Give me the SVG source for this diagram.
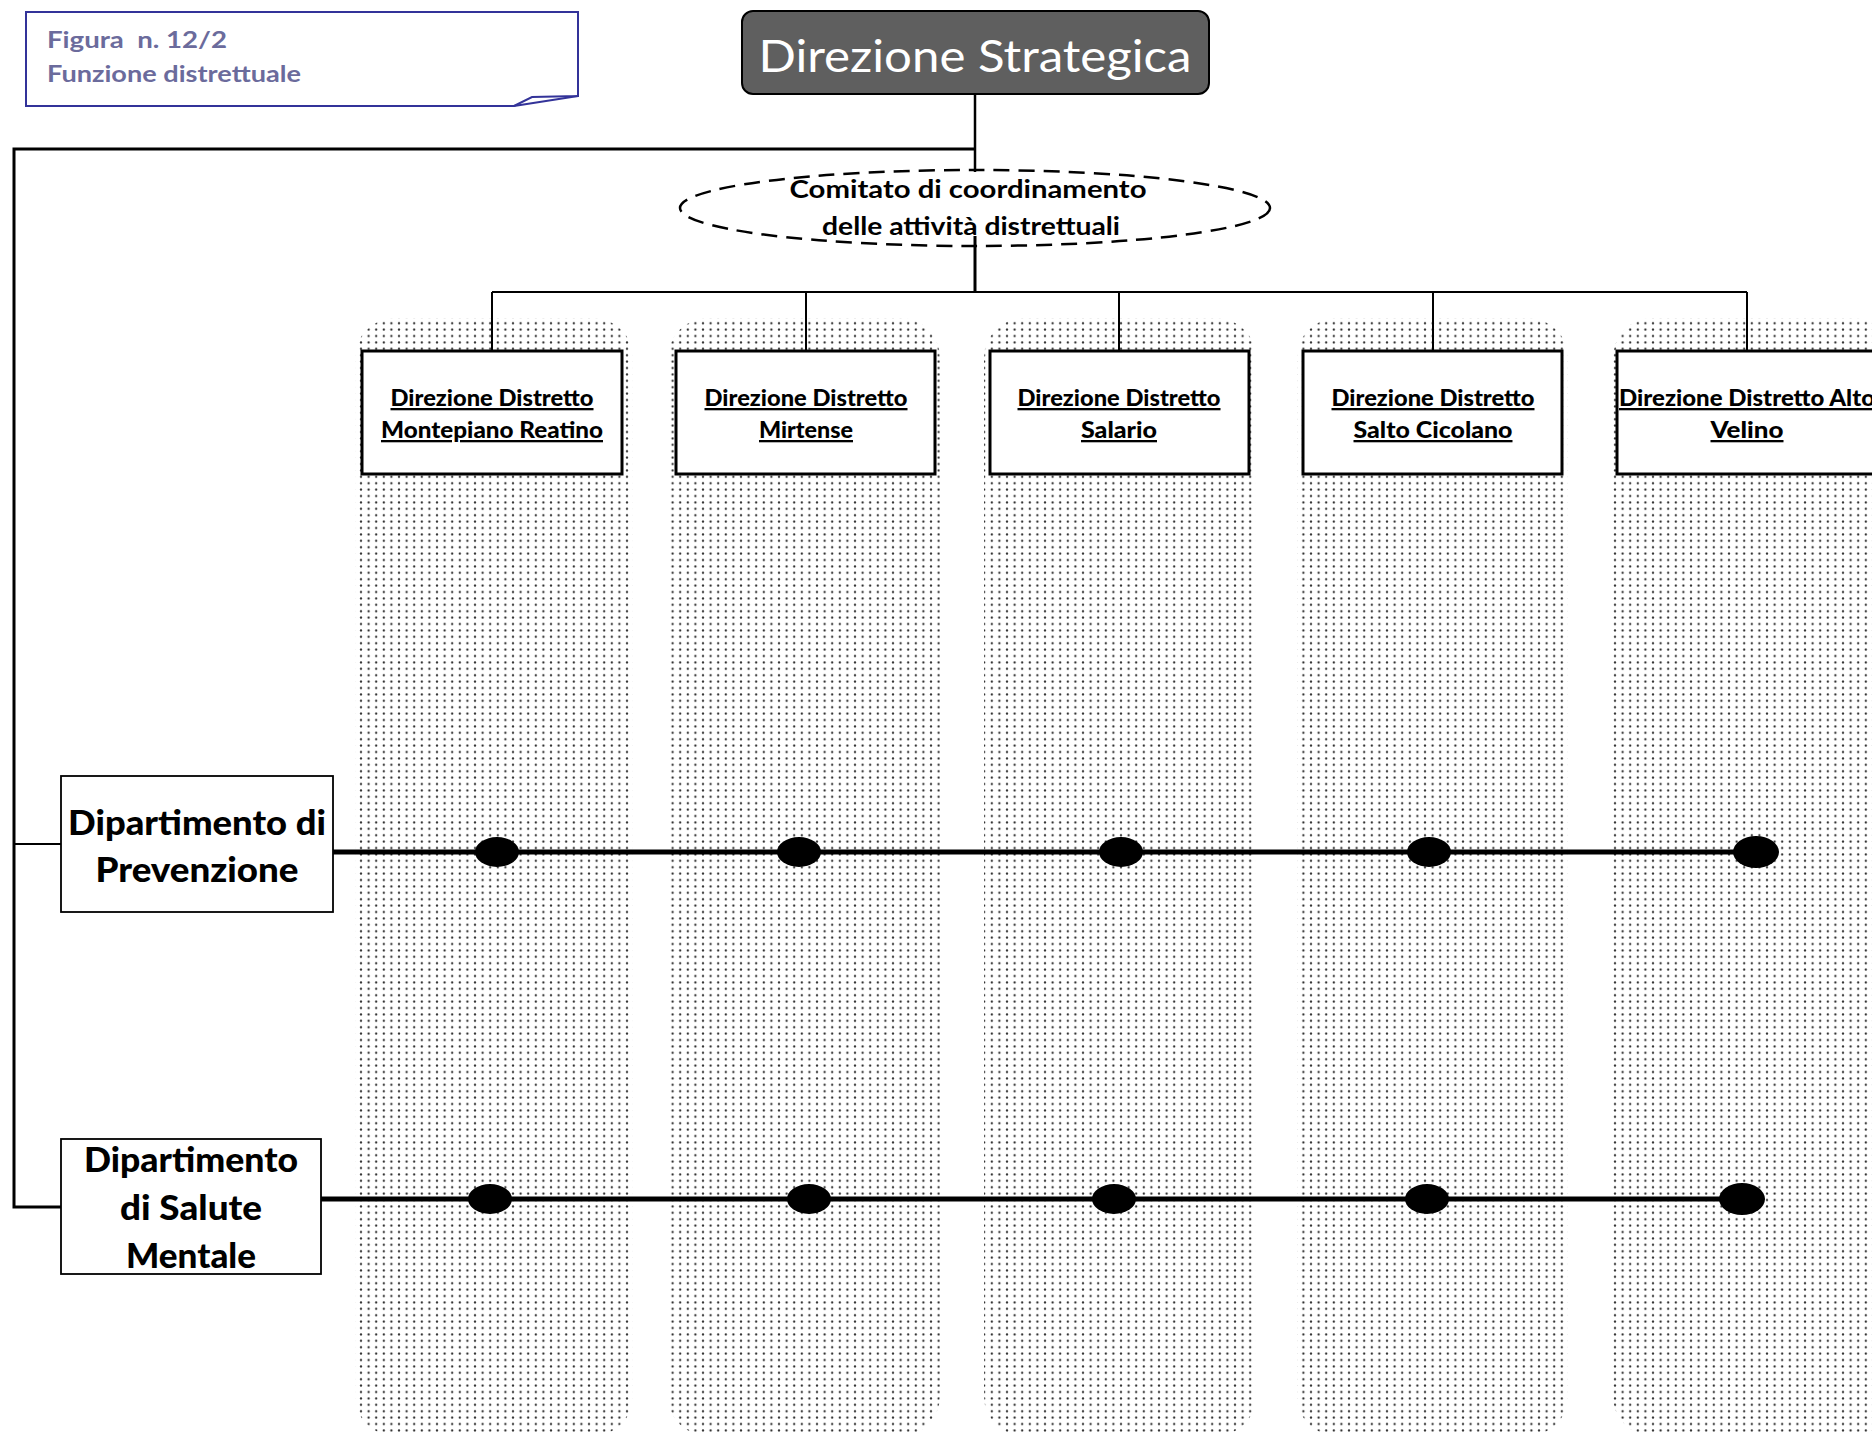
<svg xmlns="http://www.w3.org/2000/svg" width="1872" height="1433" viewBox="0 0 1872 1433">
<defs>
<pattern id="dots" x="0" y="0" width="7.6" height="6.4" patternUnits="userSpaceOnUse">
<circle cx="3.8" cy="3.2" r="1.1" fill="#2a2a2a"/>
</pattern>
</defs>
<style>
.col{fill:url(#dots);stroke:none}
.dist{fill:#fff;stroke:#000;stroke-width:3}
.dept{fill:#fff;stroke:#000;stroke-width:1.8}
.dt{font-family:"Lato","Liberation Sans",sans-serif;font-weight:900;font-size:23px;text-anchor:middle;text-decoration:underline;fill:#000}
.dp{font-family:"Lato","Liberation Sans",sans-serif;font-weight:900;font-size:34px;text-anchor:middle;fill:#000}
.cm{font-family:"Lato","Liberation Sans",sans-serif;font-weight:bold;font-size:25px;text-anchor:middle;fill:#000}
.fig{font-family:"Lato","Liberation Sans",sans-serif;font-weight:bold;font-size:23px;fill:#6b6b9c;white-space:pre}
.ln{stroke:#000;fill:none}
.dot{fill:#000}
</style>

<g id="columns">
<rect class="col" x="355" y="318" width="278" height="1118" rx="40"/>
<rect class="col" x="668" y="318" width="272" height="1118" rx="40"/>
<rect class="col" x="984" y="318" width="272" height="1118" rx="40"/>
<rect class="col" x="1297" y="318" width="271" height="1118" rx="40"/>
<rect class="col" x="1613" y="318" width="280" height="1118" rx="40"/>
</g>

<g id="connectors">
<line class="ln" x1="975" y1="94" x2="975" y2="172" stroke-width="2.5"/>
<line class="ln" x1="975" y1="236" x2="975" y2="292" stroke-width="3"/>
<polyline class="ln" points="975,149 14,149 14,1207 61,1207" stroke-width="3"/>
<line class="ln" x1="14" y1="844" x2="61" y2="844" stroke-width="2"/>
<line class="ln" x1="492" y1="292" x2="1747" y2="292" stroke-width="2"/>
<line class="ln" x1="492" y1="292" x2="492" y2="351" stroke-width="2"/>
<line class="ln" x1="806" y1="292" x2="806" y2="351" stroke-width="2"/>
<line class="ln" x1="1119" y1="292" x2="1119" y2="351" stroke-width="2"/>
<line class="ln" x1="1433" y1="292" x2="1433" y2="351" stroke-width="2"/>
<line class="ln" x1="1747" y1="292" x2="1747" y2="351" stroke-width="2"/>
<line class="ln" x1="333" y1="852" x2="1756" y2="852" stroke-width="5"/>
<line class="ln" x1="321" y1="1199" x2="1742" y2="1199" stroke-width="5"/>
</g>

<g id="figura">
<path d="M26,12 H578 V96 L532,97 L514,106 H26 Z" fill="#fff" stroke="#333399" stroke-width="2"/>
<path d="M514,106 L578,96" fill="none" stroke="#333399" stroke-width="2"/>
<text class="fig" x="47" y="48" textLength="180" lengthAdjust="spacingAndGlyphs">Figura  n. 12/2</text>
<text class="fig" x="47" y="82" textLength="254" lengthAdjust="spacingAndGlyphs">Funzione distrettuale</text>
</g>

<g id="direzione-strategica">
<rect x="742" y="11" width="467" height="83" rx="11" fill="#5f5f5f" stroke="#000" stroke-width="2"/>
<text x="975" y="72" font-family="Lato, 'Liberation Sans', sans-serif" font-size="45" fill="#fff" text-anchor="middle" textLength="433" lengthAdjust="spacingAndGlyphs">Direzione Strategica</text>
</g>

<g id="comitato">
<ellipse cx="975" cy="208" rx="295" ry="38" fill="none" stroke="#000" stroke-width="2.5" stroke-dasharray="16,9"/>
<text class="cm" x="968" y="198" textLength="357" lengthAdjust="spacingAndGlyphs">Comitato di coordinamento</text>
<text class="cm" x="971" y="235" textLength="298" lengthAdjust="spacingAndGlyphs">delle attività distrettuali</text>
</g>

<g id="distretto-montepiano">
<rect class="dist" x="362" y="351" width="260" height="123"/>
<text class="dt" x="492" y="406" textLength="203" lengthAdjust="spacingAndGlyphs">Direzione Distretto</text>
<text class="dt" x="492" y="438" textLength="222" lengthAdjust="spacingAndGlyphs">Montepiano Reatino</text>
</g>
<g id="distretto-mirtense">
<rect class="dist" x="676" y="351" width="259" height="123"/>
<text class="dt" x="806" y="406" textLength="203" lengthAdjust="spacingAndGlyphs">Direzione Distretto</text>
<text class="dt" x="806" y="438" textLength="94" lengthAdjust="spacingAndGlyphs">Mirtense</text>
</g>
<g id="distretto-salario">
<rect class="dist" x="990" y="351" width="259" height="123"/>
<text class="dt" x="1119" y="406" textLength="203" lengthAdjust="spacingAndGlyphs">Direzione Distretto</text>
<text class="dt" x="1119" y="438" textLength="76" lengthAdjust="spacingAndGlyphs">Salario</text>
</g>
<g id="distretto-salto-cicolano">
<rect class="dist" x="1303" y="351" width="259" height="123"/>
<text class="dt" x="1433" y="406" textLength="203" lengthAdjust="spacingAndGlyphs">Direzione Distretto</text>
<text class="dt" x="1433" y="438" textLength="159" lengthAdjust="spacingAndGlyphs">Salto Cicolano</text>
</g>
<g id="distretto-alto-velino">
<rect class="dist" x="1617" y="351" width="262" height="123"/>
<text class="dt" x="1747" y="406" textLength="256" lengthAdjust="spacingAndGlyphs">Direzione Distretto Alto</text>
<text class="dt" x="1747" y="438" textLength="73" lengthAdjust="spacingAndGlyphs">Velino</text>
</g>

<g id="dip-prevenzione">
<rect class="dept" x="61" y="776" width="272" height="136"/>
<text class="dp" x="197" y="835" textLength="258" lengthAdjust="spacingAndGlyphs">Dipartimento di</text>
<text class="dp" x="197" y="882" textLength="203" lengthAdjust="spacingAndGlyphs">Prevenzione</text>
</g>
<g id="dip-salute-mentale">
<rect class="dept" x="61" y="1139" width="260" height="135"/>
<text class="dp" x="191" y="1172" textLength="214" lengthAdjust="spacingAndGlyphs">Dipartimento</text>
<text class="dp" x="191" y="1220" textLength="142" lengthAdjust="spacingAndGlyphs">di Salute</text>
<text class="dp" x="191" y="1268" textLength="130" lengthAdjust="spacingAndGlyphs">Mentale</text>
</g>

<g id="nodi-prevenzione">
<ellipse class="dot" cx="497" cy="852" rx="22" ry="15"/>
<ellipse class="dot" cx="799" cy="852" rx="22" ry="15"/>
<ellipse class="dot" cx="1121" cy="852" rx="22" ry="15"/>
<ellipse class="dot" cx="1429" cy="852" rx="22" ry="15"/>
<ellipse class="dot" cx="1756" cy="852" rx="23" ry="16"/>
</g>
<g id="nodi-salute-mentale">
<ellipse class="dot" cx="490" cy="1199" rx="22" ry="15"/>
<ellipse class="dot" cx="809" cy="1199" rx="22" ry="15"/>
<ellipse class="dot" cx="1114" cy="1199" rx="22" ry="15"/>
<ellipse class="dot" cx="1427" cy="1199" rx="22" ry="15"/>
<ellipse class="dot" cx="1742" cy="1199" rx="23" ry="16"/>
</g>
</svg>
